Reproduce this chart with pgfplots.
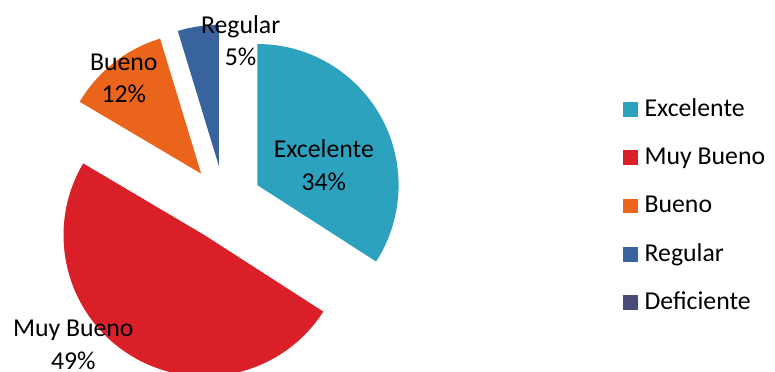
\documentclass[border=0pt]{standalone}
\usepackage{pgfplots}
\usepackage{pgfplotstable}
\pgfplotsset{compat=1.18}
\usepackage{fontspec}
\setmainfont{Carlito}
\definecolor{cExc}{HTML}{2DA2BF}
\definecolor{cMuy}{HTML}{DA1F28}
\definecolor{cBue}{HTML}{EB641B}
\definecolor{cReg}{HTML}{39639D}
\definecolor{cDef}{HTML}{474B78}
% shares in percent (labels show them rounded)
\pgfplotstableread{
label value color
Excelente 34.1 cExc
MuyBueno 49.4 cMuy
Bueno 11.8 cBue
Regular 4.7 cReg
Deficiente 0 cDef
}\piedata
\begin{document}
\begin{tikzpicture}
\begin{axis}[
  scale only axis, width=387.5pt, height=187.5pt,
  xmin=0, xmax=775, ymin=0, ymax=375,
  hide axis,
  font=\fontsize{13}{16.5}\selectfont,
  legend cell align=left,
  legend image code/.code={\fill[#1, draw=none] (0pt,-3.75pt) rectangle (7.5pt,3.75pt);
    \path[draw=none] (0pt,0pt) -- (9pt,0pt);},
  legend style={at={(axis cs:622.5,285)}, anchor=north west, draw=none, fill=none,
    font=\fontsize{13}{16.5}\selectfont, row sep=8.4pt,
    nodes={text height=9.5pt, text depth=2.5pt, inner ysep=2pt}},
]
\path (axis cs:0,0) rectangle (axis cs:775,375);
\pgfplotstablegetrowsof{\piedata}
\pgfmathtruncatemacro\N{\pgfplotsretval-1}
\def\startangle{90}
\pgfplotsforeachungrouped \i in {0,...,\N}{%
  \pgfplotstablegetelem{\i}{value}\of\piedata \let\val\pgfplotsretval
  \pgfplotstablegetelem{\i}{color}\of\piedata \let\col\pgfplotsretval
  \pgfmathsetmacro\endangle{\startangle-3.6*\val}%
  \pgfmathsetmacro\midang{(\startangle+\endangle)/2}%
  \pgfmathsetmacro\ax{226.6+38*cos(\midang)}%
  \pgfmathsetmacro\ay{169.8+38*sin(\midang)}%
  \pgfmathsetmacro\bx{\ax+142.5*cos(\startangle)}%
  \pgfmathsetmacro\by{\ay+142.5*sin(\startangle)}%
  \ifdim\val pt>0pt
    \edef\temp{\noexpand\fill[\col] (axis cs:\ax,\ay) -- (axis cs:\bx,\by) arc[start angle=\startangle, end angle=\endangle, radius=71.25pt] -- cycle;}%
    \temp
  \fi
  \let\startangle\endangle
}
\node[align=center] at (axis cs:327,208) {Excelente\\34\%};
\node[align=center] at (axis cs:243,334) {Regular\\5\%};
\node[align=center] at (axis cs:125,296) {Bueno\\12\%};
\node[align=center] at (axis cs:74,27) {Muy Bueno\\49\%};
\addlegendimage{fill=cExc}\addlegendentry{Excelente}
\addlegendimage{fill=cMuy}\addlegendentry{Muy Bueno}
\addlegendimage{fill=cBue}\addlegendentry{Bueno}
\addlegendimage{fill=cReg}\addlegendentry{Regular}
\addlegendimage{fill=cDef}\addlegendentry{Deficiente}
\end{axis}
\end{tikzpicture}
\end{document}
